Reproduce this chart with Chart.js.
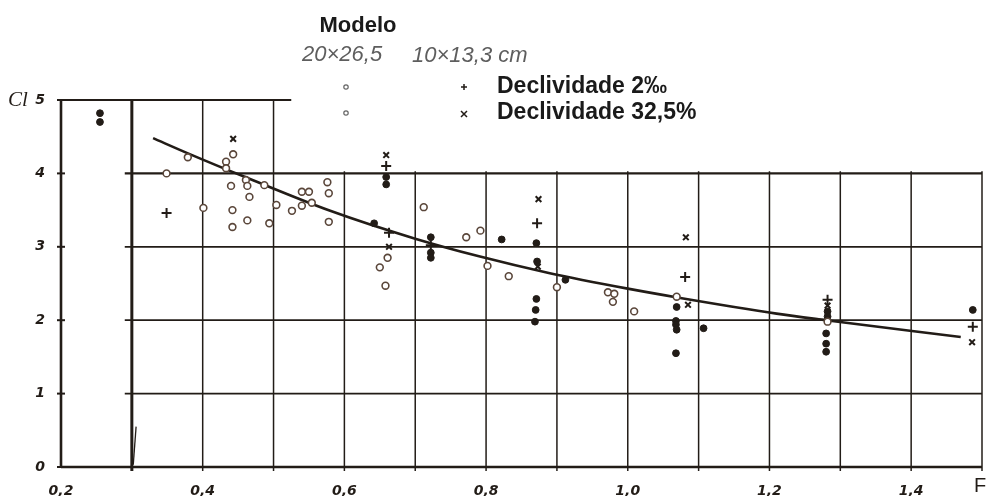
<!DOCTYPE html>
<html>
<head>
<meta charset="utf-8">
<script src="https://cdn.jsdelivr.net/npm/chart.js@4"></script>
<style>
  html, body { margin: 0; padding: 0; background: #fff; }
  #wrap { width: 989px; height: 496px; position: relative; }
</style>
</head>
<body>
<div id="wrap"><canvas id="c" width="989" height="496"></canvas></div>
<script>
// Axis ranges and tick labels
const xMin = 0.2, xMax = 1.5;
const yMin = 0, yMax = 5;
const xLabeled = [0.2, 0.4, 0.6, 0.8, 1.0, 1.2, 1.4];
const yLabeled = [0, 1, 2, 3, 4, 5];

// Fitted curve Cl(F)
const curveF  = [0.33, 0.38, 0.46, 0.58, 0.70, 0.79, 0.89, 1.00, 1.07, 1.21, 1.28, 1.47];
const curveCl = [4.48, 4.27, 3.95, 3.49, 3.11, 2.87, 2.64, 2.43, 2.31, 2.09, 2.00, 1.77];

// Model 20x26,5 - open circles
const openF  = [0.443, 0.379, 0.433, 0.433, 0.349, 0.461, 0.463, 0.487, 0.440, 0.466, 0.540, 0.550, 0.554, 0.540, 0.504, 0.526, 0.401, 0.442, 0.463, 0.442, 0.494, 0.576, 0.578, 0.578, 0.712, 0.661, 0.650, 0.658, 0.772, 0.792, 0.802, 0.832, 0.900, 0.972, 0.981, 0.979, 1.009, 1.069, 1.282];
const openCl = [4.26, 4.22, 4.16, 4.07, 4.00, 3.91, 3.83, 3.84, 3.83, 3.68, 3.75, 3.75, 3.60, 3.56, 3.57, 3.49, 3.53, 3.50, 3.36, 3.27, 3.32, 3.88, 3.73, 3.34, 3.54, 2.85, 2.72, 2.47, 3.13, 3.22, 2.74, 2.60, 2.45, 2.38, 2.36, 2.25, 2.12, 2.32, 1.98];

// Model 20x26,5 - filled dots
const dotF  = [0.255, 0.255, 0.659, 0.659, 0.642, 0.722, 0.722, 0.722, 0.822, 0.871, 0.872, 0.912, 0.871, 0.870, 0.869, 1.069, 1.068, 1.068, 1.069, 1.107, 1.068, 1.282, 1.282, 1.280, 1.280, 1.280, 1.487];
const dotCl = [4.82, 4.70, 3.95, 3.85, 3.32, 3.13, 2.92, 2.85, 3.10, 3.05, 2.80, 2.55, 2.29, 2.14, 1.98, 2.18, 1.99, 1.94, 1.87, 1.89, 1.55, 2.12, 2.05, 1.82, 1.68, 1.57, 2.14];

// Model 10x13,3 - slope 2 per mille (+)
const plusF  = [0.349, 0.659, 0.663, 0.722, 0.872, 1.081, 1.282, 1.487];
const plusCl = [3.46, 4.10, 3.19, 3.02, 3.32, 2.59, 2.28, 1.91];

// Model 10x13,3 - slope 32,5 % (x)
const crossF  = [0.443, 0.659, 0.663, 0.874, 0.873, 1.082, 1.085, 1.282, 1.486];
const crossCl = [4.47, 4.25, 3.00, 3.65, 2.73, 3.13, 2.21, 2.20, 1.70];

const INK = '#221c17';
const pts = (xs, ys) => xs.map((x, i) => ({ x, y: ys[i] }));
const fmt = v => v.toFixed(1).replace('.', ',');

// Hand-ruled paper grid drawn from the chart scales
const paperGrid = {
  id: 'paperGrid',
  beforeDatasetsDraw(chart) {
    const { ctx, scales: { x, y } } = chart;
    const X = v => x.getPixelForValue(v), Y = v => y.getPixelForValue(v);
    const line = (x1, y1, x2, y2, w) => {
      ctx.lineWidth = w;
      ctx.beginPath(); ctx.moveTo(x1, y1); ctx.lineTo(x2, y2); ctx.stroke();
    };
    ctx.save();
    ctx.strokeStyle = INK;
    ctx.lineCap = 'butt';
    // left axis and base line
    line(X(0.2), Y(0), X(0.2), Y(5), 2.6);
    line(X(0.2), Y(0), X(1.5), Y(0), 2.6);
    // top border over the first cells
    line(X(0.2), Y(5), X(0.525), Y(5), 2.2);
    // vertical lines
    for (let k = 3; k <= 15; k++) {
      const v = k / 10;
      const top = k <= 5 ? 5 : 4.03;
      line(X(v), Y(0) + 4, X(v), Y(top), k === 3 ? 3 : 1.5);
    }
    // horizontal lines
    for (let j = 1; j <= 4; j++) {
      line(X(0.29), Y(j), X(1.5), Y(j), j === 4 ? 2.2 : 1.8);
    }
    // tick marks on the left axis
    for (let j = 0; j <= 5; j++) line(X(0.2) - 4, Y(j), X(0.2) + 4, Y(j), 2);
    // small pen stroke beside the 0,3 line
    line(X(0.302), Y(0.03), X(0.306), Y(0.55), 1.3);
    ctx.restore();
  }
};

// Axis names and the key
const captions = {
  id: 'captions',
  afterDraw(chart) {
    const { ctx } = chart;
    ctx.save();
    ctx.fillStyle = INK;
    ctx.textBaseline = 'middle';
    ctx.font = 'italic 21px "Liberation Serif"';
    ctx.fillText('Cl', 8, 100);
    ctx.font = '20px "Liberation Sans"';
    ctx.fillText('F', 974, 486);

    ctx.fillStyle = '#1a1a1a';
    ctx.font = 'bold 22px "Liberation Sans"';
    ctx.textAlign = 'center';
    ctx.fillText('Modelo', 358, 26);
    ctx.fillStyle = '#5e5e5e';
    ctx.font = 'italic 22px "Liberation Sans Narrow", "Liberation Sans"';
    ctx.textAlign = 'left';
    ctx.fillText('20\u00d726,5', 302, 55);
    ctx.fillText('10\u00d713,3 cm', 412, 56);
    ctx.fillStyle = '#1a1a1a';
    ctx.font = 'bold 23px "Liberation Sans"';
    ctx.fillText('Declividade 2\u2030', 497, 87);
    ctx.fillText('Declividade 32,5%', 497, 113);

    // key markers
    ctx.strokeStyle = '#666';
    ctx.lineWidth = 1.2;
    [87, 113].forEach(yy => { ctx.beginPath(); ctx.arc(346, yy, 2.2, 0, Math.PI * 2); ctx.stroke(); });
    ctx.strokeStyle = INK;
    ctx.lineWidth = 1.5;
    ctx.beginPath(); ctx.moveTo(461, 87); ctx.lineTo(467, 87); ctx.moveTo(464, 84); ctx.lineTo(464, 90); ctx.stroke();
    ctx.beginPath(); ctx.moveTo(461, 111); ctx.lineTo(467, 117); ctx.moveTo(467, 111); ctx.lineTo(461, 117); ctx.stroke();
    ctx.restore();
  }
};

new Chart(document.getElementById('c'), {
  type: 'scatter',
  data: {
    datasets: [
      {
        type: 'line', label: 'curva', data: pts(curveF, curveCl),
        borderColor: INK, borderWidth: 2.6, pointRadius: 0, fill: false,
        cubicInterpolationMode: 'monotone', order: 5
      },
      {
        label: '20x26,5 - 2\u2030', data: pts(openF, openCl),
        pointStyle: 'circle', pointRadius: 3.4, pointBorderWidth: 1.6,
        pointBackgroundColor: '#fff', pointBorderColor: '#5a463a', order: 1
      },
      {
        label: '20x26,5 - 32,5%', data: pts(dotF, dotCl),
        pointStyle: 'circle', pointRadius: 3.4, pointBorderWidth: 1,
        pointBackgroundColor: INK, pointBorderColor: INK, order: 1
      },
      {
        label: '10x13,3 - 2\u2030', data: pts(plusF, plusCl),
        pointStyle: 'cross', pointRadius: 5, pointBorderWidth: 2,
        pointBorderColor: INK, order: 1
      },
      {
        label: '10x13,3 - 32,5%', data: pts(crossF, crossCl),
        pointStyle: 'crossRot', pointRadius: 4, pointBorderWidth: 2,
        pointBorderColor: INK, order: 1
      }
    ]
  },
  options: {
    responsive: false,
    animation: false,
    devicePixelRatio: 1,
    layout: { padding: { top: 100, right: 2, left: 0, bottom: 0 } },
    plugins: { legend: { display: false }, tooltip: { enabled: false } },
    scales: {
      x: {
        type: 'linear', min: xMin, max: xMax,
        afterFit(s) { s.height = 29; s.paddingLeft = 0; s.paddingRight = 0; },
        afterBuildTicks(s) {
          const t = [];
          for (let k = 2; k <= 15; k++) t.push({ value: k / 10 });
          s.ticks = t;
        },
        grid: { display: false }, border: { display: false },
        ticks: {
          autoSkip: false, maxRotation: 0, padding: 8,
          color: INK, font: { family: '"DejaVu Sans"', size: 14, style: 'italic', weight: 'bold' },
          callback: v => xLabeled.some(l => Math.abs(l - v) < 1e-6) ? fmt(v) : ''
        }
      },
      y: {
        type: 'linear', min: yMin, max: yMax,
        afterFit(s) { s.width = 61; s.paddingTop = 0; s.paddingBottom = 0; },
        afterBuildTicks(s) { s.ticks = yLabeled.map(v => ({ value: v })); },
        grid: { display: false }, border: { display: false },
        ticks: {
          padding: 8, color: INK,
          font: { family: '"DejaVu Sans"', size: 14, style: 'italic', weight: 'bold' },
          callback: v => String(v)
        }
      }
    }
  },
  plugins: [paperGrid, captions]
});
</script>
</body>
</html>
